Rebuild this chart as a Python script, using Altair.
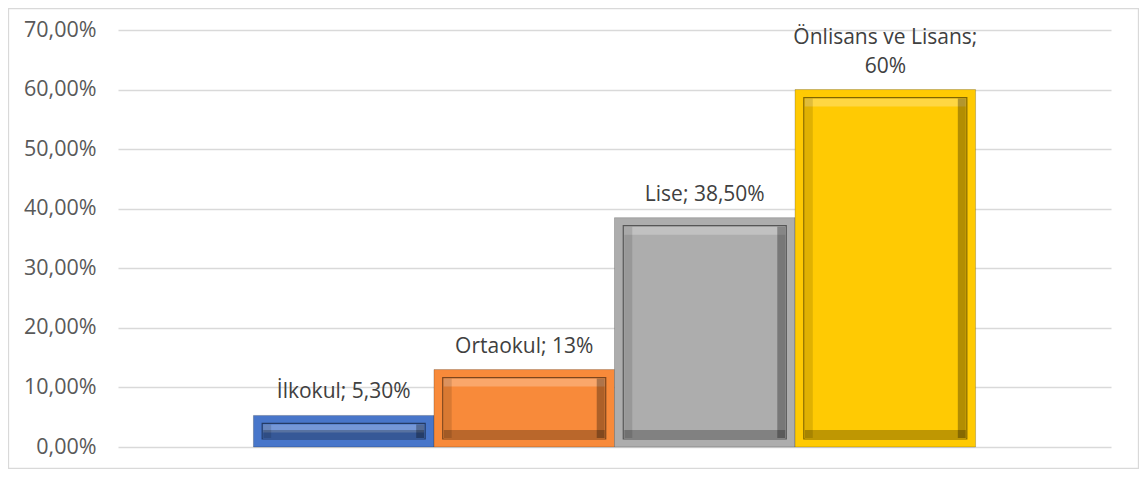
import altair as alt
import pandas as pd

categories = ["İlkokul", "Ortaokul", "Lise", "Önlisans ve Lisans"]
values = [0.053, 0.13, 0.385, 0.60]
labels = ["İlkokul; 5,30%", "Ortaokul; 13%", "Lise; 38,50%", "Önlisans ve Lisans;\n60%"]
colors = ["#4876CA", "#F88A3A", "#ADADAD", "#FFCA03"]
y_ticks = [0, 0.1, 0.2, 0.3, 0.4, 0.5, 0.6, 0.7]

line1 = [l.split("\n")[0] if "\n" in l else "" for l in labels]
line2 = [l.split("\n")[-1] for l in labels]
df = pd.DataFrame({"cat": categories, "val": values, "line1": line1, "line2": line2})

W, H = 993, 417
FONT = "Open Sans"
AXFS = 21.5
FS = 21
INNER = 163

xenc = alt.X("cat:N", sort=categories, axis=None,
             scale=alt.Scale(paddingInner=0, paddingOuter=0.75))
yscale = alt.Scale(domain=[0, 0.7], nice=False)
yenc = alt.Y("val:Q", scale=yscale,
             axis=alt.Axis(values=y_ticks, format=".2%", title=None, domain=False,
                           ticks=False, labelPadding=22, labelFontSize=AXFS,
                           labelColor="#595959", labelFont=FONT,
                           gridColor="#D9D9D9", gridWidth=1.3))
yv = alt.Y("val:Q", scale=yscale)
color = alt.Color("cat:N", sort=categories,
                  scale=alt.Scale(domain=categories, range=colors), legend=None)

base = alt.Chart(df)

border = alt.Chart(pd.DataFrame({"a": [1]})).mark_rect(
    fillOpacity=0, stroke="#D9D9D9", strokeWidth=1.3
).encode(x=alt.value(-109.5), x2=alt.value(1020.5), y=alt.value(-21.5), y2=alt.value(438.5))

outer = base.mark_bar(stroke="#000000", strokeOpacity=0.2, strokeWidth=1).encode(
    x=xenc, y=yenc, y2=alt.datum(0), color=color)

inner = base.mark_bar(size=INNER, yOffset=8, y2Offset=-8, stroke="#000000",
                      strokeOpacity=0.5, strokeWidth=1.2).encode(
    x=xenc, y=yv, y2=alt.datum(0), color=color)

top_hi = base.mark_bar(color="white", opacity=0.25, size=INNER - 2, yOffset=9, y2Offset=17).encode(
    x=xenc, y=yv, y2="val:Q")
bottom_sh = base.mark_bar(color="black", opacity=0.25, size=INNER - 2, yOffset=-17, y2Offset=-9).encode(
    x=xenc, y=alt.datum(0), y2=alt.datum(0))
right_sh = base.mark_bar(color="black", opacity=0.3, size=8, xOffset=INNER / 2 - 5,
                         yOffset=9, y2Offset=-9).encode(x=xenc, y=yv, y2=alt.datum(0))
left_sh = base.mark_bar(color="black", opacity=0.12, size=8, xOffset=-(INNER / 2 - 5),
                        yOffset=9, y2Offset=-9).encode(x=xenc, y=yv, y2=alt.datum(0))

text2 = base.mark_text(baseline="bottom", dy=-13, fontSize=FS, font=FONT,
                       color="#404040").encode(x=xenc, y=yv, text="line2:N")
text1 = base.mark_text(baseline="bottom", dy=-42, fontSize=FS, font=FONT,
                       color="#404040").encode(x=xenc, y=yv, text="line1:N")

chart = alt.layer(border, outer, inner, top_hi, bottom_sh, right_sh, left_sh, text2, text1).properties(
    width=W, height=H,
    autosize=alt.AutoSizeParams(type="none"),
    padding={"left": 110, "top": 22, "right": 28, "bottom": 22},
).configure(
    locale={"number": {"decimal": ",", "thousands": ".", "grouping": [3], "currency": ["", " TL"]}},
    view=alt.ViewConfig(stroke=None),
)

chart.save("out.html", embed_options={"renderer": "svg", "actions": False})
